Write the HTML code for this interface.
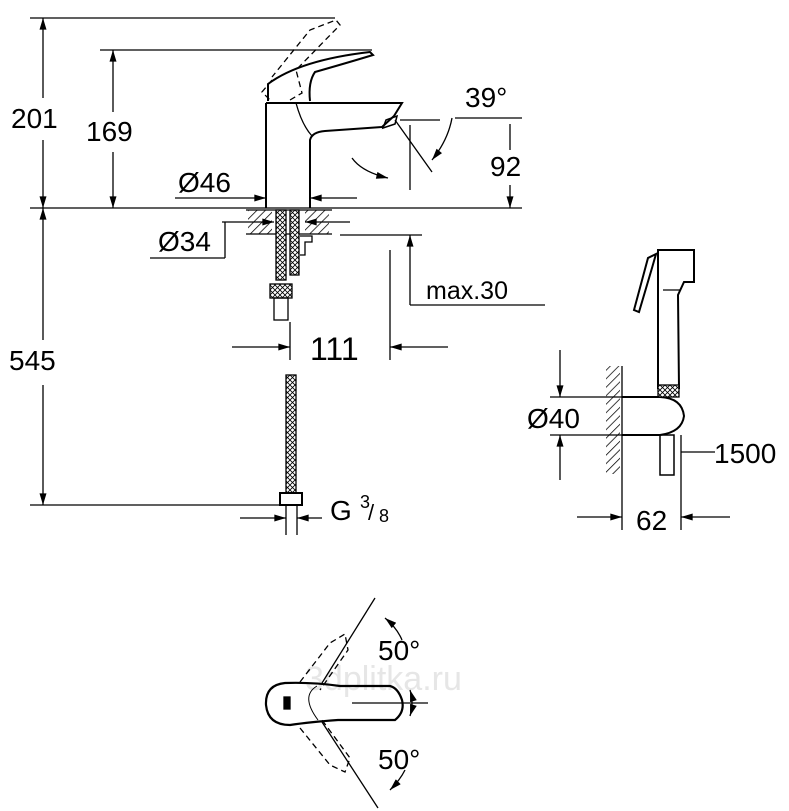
<!DOCTYPE html>
<html><head><meta charset="utf-8"><style>
html,body{margin:0;padding:0;background:#fff;}
svg{display:block;}
text{font-family:"Liberation Sans",sans-serif;fill:#000;}
</style></head><body>
<svg width="789" height="811" viewBox="0 0 789 811" xmlns="http://www.w3.org/2000/svg">
<defs>
<marker id="a" viewBox="0 0 10 6" refX="10" refY="3" markerWidth="14" markerHeight="7" orient="auto-start-reverse" markerUnits="userSpaceOnUse"><path d="M0,0L10,3L0,6z" fill="#000"/></marker>
<pattern id="h" width="6" height="6" patternUnits="userSpaceOnUse" patternTransform="rotate(45)"><line x1="0" y1="0" x2="0" y2="6" stroke="#000" stroke-width="1.5"/></pattern>
<pattern id="m" width="5" height="5" patternUnits="userSpaceOnUse"><rect width="5" height="5" fill="#fff"/><path d="M0,0L5,5M5,0L0,5" stroke="#000" stroke-width="0.8"/></pattern>
</defs>
<text x="305" y="690" font-size="34" style="fill:#e6e6e6">3dplitka.ru</text>
<g stroke="#000" stroke-width="1.3" fill="none">
<line x1="30" y1="18" x2="335" y2="18"/>
<line x1="100" y1="50" x2="372" y2="50"/>
<line x1="30" y1="208" x2="522" y2="208"/>
<line x1="30" y1="505" x2="290" y2="505"/>
<line x1="43" y1="18" x2="43" y2="98" marker-start="url(#a)"/>
<line x1="43" y1="140" x2="43" y2="208" marker-end="url(#a)"/>
<line x1="43" y1="208" x2="43" y2="340" marker-start="url(#a)"/>
<line x1="43" y1="385" x2="43" y2="505" marker-end="url(#a)"/>
<line x1="113" y1="50" x2="113" y2="112" marker-start="url(#a)"/>
<line x1="113" y1="152" x2="113" y2="208" marker-end="url(#a)"/>
<path d="M266,103 L266,208 M310,208 L310,140 Q312,132 325,131 L382,127 L394,116 L402,103 L266,103" stroke-width="2"/>
<path d="M296,103 Q302,125 312,136" stroke-width="1.3"/>
<path d="M383,128 L386,120 L397,116 L395,124 Z" stroke-width="1.5"/>
<path d="M268,101 L268,84 Q300,60 370,52 L373,55 Q350,62 315,72 Q308,82 310,101" stroke-width="2"/>
<path d="M272,80 L262,92 L272,102 M290,100 L302,93 L296,70 L340,25 L336,20 L310,30 L272,77" stroke-dasharray="6,4"/>
<line x1="395" y1="120" x2="432" y2="172"/>
<line x1="400" y1="120" x2="440" y2="120"/>
<line x1="455" y1="118" x2="522" y2="118"/>
<path d="M452,118 Q448,140 432,160" marker-end="url(#a)"/>
<path d="M352,158 Q362,172 388,178" marker-end="url(#a)"/>
<line x1="410" y1="125" x2="410" y2="190"/>
<line x1="510" y1="124" x2="510" y2="150"/>
<line x1="510" y1="185" x2="510" y2="208" marker-end="url(#a)"/>
<line x1="175" y1="198" x2="266" y2="198" marker-end="url(#a)"/>
<line x1="357" y1="198" x2="310" y2="198" marker-end="url(#a)"/>
<rect x="248" y="210" width="24" height="24" fill="url(#h)" stroke="none"/>
<rect x="305" y="210" width="24" height="24" fill="url(#h)" stroke="none"/>
<line x1="246" y1="234" x2="332" y2="234"/>
<line x1="246" y1="210" x2="332" y2="210"/>
<line x1="150" y1="258" x2="225" y2="258"/>
<line x1="225" y1="258" x2="225" y2="222"/>
<line x1="222" y1="222" x2="274" y2="222" marker-end="url(#a)"/>
<line x1="350" y1="222" x2="305" y2="222" marker-end="url(#a)"/>
<rect x="276" y="210" width="10" height="70" fill="url(#m)"/>
<rect x="290" y="210" width="9" height="65" fill="url(#m)"/>
<path d="M300,236 L312,236 L312,242 L305,242 L305,255 L300,255"/>
<rect x="270" y="284" width="22" height="14" fill="url(#m)"/>
<rect x="274" y="298" width="14" height="22"/>
<line x1="340" y1="235" x2="422" y2="235"/>
<line x1="410" y1="235" x2="410" y2="305" marker-start="url(#a)"/>
<line x1="410" y1="305" x2="545" y2="305"/>
<line x1="390" y1="250" x2="390" y2="360"/>
<line x1="232" y1="347" x2="290" y2="347" marker-end="url(#a)"/>
<line x1="448" y1="347" x2="390" y2="347" marker-end="url(#a)"/>
<line x1="290" y1="322" x2="290" y2="360"/>
<rect x="286" y="375" width="10" height="118" fill="url(#m)"/>
<rect x="280" y="493" width="22" height="12" stroke-width="2"/>
<line x1="286" y1="505" x2="286" y2="535"/>
<line x1="297" y1="505" x2="297" y2="535"/>
<line x1="240" y1="518" x2="286" y2="518" marker-end="url(#a)"/>
<line x1="322" y1="518" x2="297" y2="518" marker-end="url(#a)"/>
<rect x="606" y="366" width="14" height="108" fill="url(#h)" stroke="none"/>
<line x1="622" y1="366" x2="622" y2="530"/>
<line x1="550" y1="397" x2="660" y2="397"/>
<line x1="550" y1="435" x2="660" y2="435"/>
<path d="M622,397 L660,397 Q682,398 684,416 Q682,432 660,435 L622,435" stroke-width="2"/>
<path d="M658,388 L658,250 L694,250 L694,282 L684,282 L678,295 L679,388 Z" stroke-width="2"/>
<rect x="658" y="385" width="21" height="12" fill="url(#m)"/>
<path d="M656,254 L648,258 L634,310 L639,312 L652,268 Z" stroke-width="2"/>
<line x1="663" y1="290" x2="680" y2="290"/>
<rect x="660" y="435" width="14" height="40" stroke-width="1.5"/>
<line x1="681" y1="435" x2="681" y2="530"/>
<line x1="681" y1="452" x2="715" y2="452"/>
<line x1="560" y1="350" x2="560" y2="397" marker-end="url(#a)"/>
<line x1="560" y1="480" x2="560" y2="435" marker-end="url(#a)"/>
<line x1="577" y1="517" x2="622" y2="517" marker-end="url(#a)"/>
<line x1="730" y1="517" x2="681" y2="517" marker-end="url(#a)"/>
<path d="M285,683 Q265,685 266,705 Q268,725 290,725 Q310,722 338,720 L395,720 Q405,712 402,700 Q398,688 390,686 L340,686 Q312,682 285,683 Z" stroke-width="2.2"/>
<path d="M317,686 Q300,696 318,720" stroke-width="1"/>
<rect x="284" y="697" width="6" height="12" fill="#000"/>
<line x1="352" y1="703" x2="428" y2="703"/>
<path d="M300,682 L330,643 L345,634 L348,650 L320,690" stroke-dasharray="6,4"/>
<path d="M300,728 L330,765 L345,772 L350,758 L322,720" stroke-dasharray="6,4"/>
<line x1="322" y1="683" x2="375" y2="598"/>
<line x1="322" y1="722" x2="378" y2="808"/>
<path d="M385,618 Q397,628 402,640" marker-start="url(#a)"/>
<path d="M410,690 Q414,703 410,716" marker-start="url(#a)" marker-end="url(#a)"/>
<path d="M390,790 Q400,780 405,770" marker-start="url(#a)"/>
</g>
<g font-size="28">
<text x="11" y="128">201</text>
<text x="86" y="141">169</text>
<text x="9" y="370">545</text>
<text x="178" y="192">Ø46</text>
<text x="158" y="251">Ø34</text>
<text x="465" y="107">39°</text>
<text x="490" y="176">92</text>
<text x="426" y="299" font-size="25">max.30</text>
<text x="310" y="360" font-size="32">111</text>
<text x="330" y="520">G</text>
<text x="360" y="508" font-size="18">3</text>
<text x="368" y="520" font-size="22">/</text>
<text x="379" y="522" font-size="18">8</text>
<text x="527" y="428">Ø40</text>
<text x="714" y="463">1500</text>
<text x="636" y="530">62</text>
<text x="378" y="660">50°</text>
<text x="378" y="769">50°</text>
</g>
</svg>
</body></html>
